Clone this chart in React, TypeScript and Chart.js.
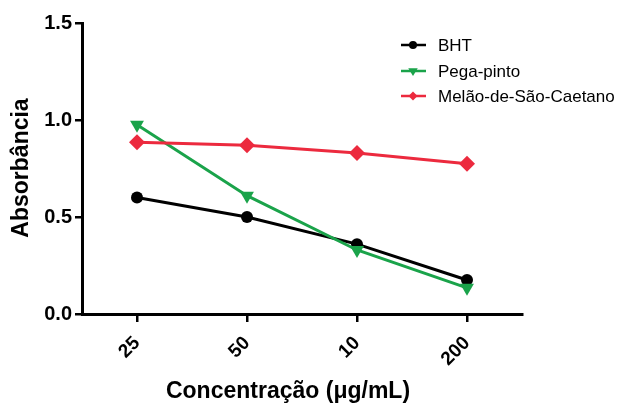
import React, { useEffect, useRef } from "react";
import { Chart, registerables } from "chart.js";

Chart.register(...registerables);

const categories = ["25", "50", "10", "200"];
const bhtValues = [0.6, 0.5, 0.36, 0.175];
const pegaValues = [0.975, 0.61, 0.33, 0.135];
const melaoValues = [0.885, 0.87, 0.83, 0.775];
const seriesNames = ["BHT", "Pega-pinto", "Melão-de-São-Caetano"];
const yTitle = "Absorbância";
const xTitle = "Concentração (μg/mL)";

const FONT = "'Liberation Sans', Arial, Helvetica, sans-serif";
const BLACK = "#000000";
const GREEN = "#1aa34a";
const RED = "#ec2a3e";

function drawMarker(ctx: CanvasRenderingContext2D, style: string, x: number, y: number, r: number) {
  ctx.beginPath();
  if (style === "circle") {
    ctx.arc(x, y, r, 0, Math.PI * 2);
  } else if (style === "triangle") {
    // downward triangle
    ctx.moveTo(x - r * 0.95, y - r * 0.55);
    ctx.lineTo(x + r * 0.95, y - r * 0.55);
    ctx.lineTo(x, y + r);
  } else {
    ctx.moveTo(x, y - r);
    ctx.lineTo(x + r, y);
    ctx.lineTo(x, y + r);
    ctx.lineTo(x - r, y);
  }
  ctx.closePath();
  ctx.fill();
}

export default function App() {
  const ref = useRef<HTMLCanvasElement | null>(null);

  useEffect(() => {
    const canvas = ref.current;
    if (!canvas) return;

    const overlay = {
      id: "overlay",
      afterDraw(chart: any) {
        const ctx = chart.ctx as CanvasRenderingContext2D;
        ctx.save();
        ctx.fillStyle = "#000";
        ctx.font = `bold 23px ${FONT}`;
        ctx.textAlign = "center";
        ctx.textBaseline = "middle";
        // y title
        ctx.save();
        ctx.translate(22, 168);
        ctx.rotate(-Math.PI / 2);
        ctx.fillText(yTitle, 0, 0);
        ctx.restore();
        // x title
        ctx.fillText(xTitle, 288, 392);

        // legend
        const items = [
          { name: seriesNames[0], color: BLACK, style: "circle", r: 4, y: 45 },
          { name: seriesNames[1], color: GREEN, style: "triangle", r: 5, y: 71 },
          { name: seriesNames[2], color: RED, style: "rectRot", r: 4.5, y: 96 },
        ];
        ctx.font = `17px ${FONT}`;
        ctx.textAlign = "left";
        for (const it of items) {
          ctx.strokeStyle = it.color;
          ctx.lineWidth = 2.5;
          ctx.beginPath();
          ctx.moveTo(401, it.y);
          ctx.lineTo(426, it.y);
          ctx.stroke();
          ctx.fillStyle = it.color;
          drawMarker(ctx, it.style, 413, it.y, it.r);
          ctx.fillStyle = "#000";
          ctx.fillText(it.name, 438, it.y + 1);
        }
        ctx.restore();
      },
    };

    const chart = new Chart(canvas, {
      type: "line",
      data: {
        labels: categories,
        datasets: [
          {
            label: seriesNames[0],
            data: bhtValues,
            borderColor: BLACK,
            backgroundColor: BLACK,
            pointBackgroundColor: BLACK,
            pointBorderColor: BLACK,
            borderWidth: 3,
            pointStyle: "circle",
            pointRadius: 6,
            pointBorderWidth: 0,
            order: 2,
            clip: false as any,
          },
          {
            label: seriesNames[1],
            data: pegaValues,
            borderColor: GREEN,
            backgroundColor: GREEN,
            pointBackgroundColor: GREEN,
            pointBorderColor: GREEN,
            borderWidth: 3,
            pointStyle: "triangle",
            pointRotation: 180,
            pointRadius: 8,
            pointBorderWidth: 0,
            order: 1,
            clip: false as any,
          },
          {
            label: seriesNames[2],
            data: melaoValues,
            borderColor: RED,
            backgroundColor: RED,
            pointBackgroundColor: RED,
            pointBorderColor: RED,
            borderWidth: 3,
            pointStyle: "rectRot",
            pointRadius: 8,
            pointBorderWidth: 0,
            order: 0,
            clip: false as any,
          },
        ],
      },
      options: {
        responsive: false,
        animation: false,
        layout: { padding: { top: 23, right: 98, left: 0, bottom: 0 } },
        plugins: {
          legend: { display: false },
          tooltip: { enabled: false },
          title: { display: false },
        },
        scales: {
          x: {
            type: "category",
            offset: true,
            afterFit: (s: any) => {
              s.height = 89;
            },
            grid: {
              display: true,
              drawOnChartArea: false,
              drawTicks: true,
              tickLength: 8,
              color: BLACK,
              lineWidth: 2.5,
              offset: false,
            },
            border: { display: true, color: BLACK, width: 3 },
            ticks: {
              color: BLACK,
              font: { family: FONT, size: 19, weight: "bold" },
              maxRotation: 45,
              minRotation: 45,
              padding: 10,
            },
          },
          y: {
            type: "linear",
            min: 0,
            max: 1.5,
            afterFit: (s: any) => {
              s.width = 82;
            },
            grid: {
              display: true,
              drawOnChartArea: false,
              drawTicks: true,
              tickLength: 7,
              color: BLACK,
              lineWidth: 2.5,
            },
            border: { display: true, color: BLACK, width: 3 },
            ticks: {
              stepSize: 0.5,
              color: BLACK,
              font: { family: FONT, size: 20, weight: "bold" },
              padding: 3,
              callback: (v: any) => Number(v).toFixed(1),
            },
          },
        },
      },
      plugins: [overlay],
    });

    return () => chart.destroy();
  }, []);

  return (
    <div style={{ position: "absolute", left: 0, top: 0, width: 620, height: 403, background: "#fff" }}>
      <canvas ref={ref} width={620} height={403} style={{ display: "block" }} />
    </div>
  );
}
